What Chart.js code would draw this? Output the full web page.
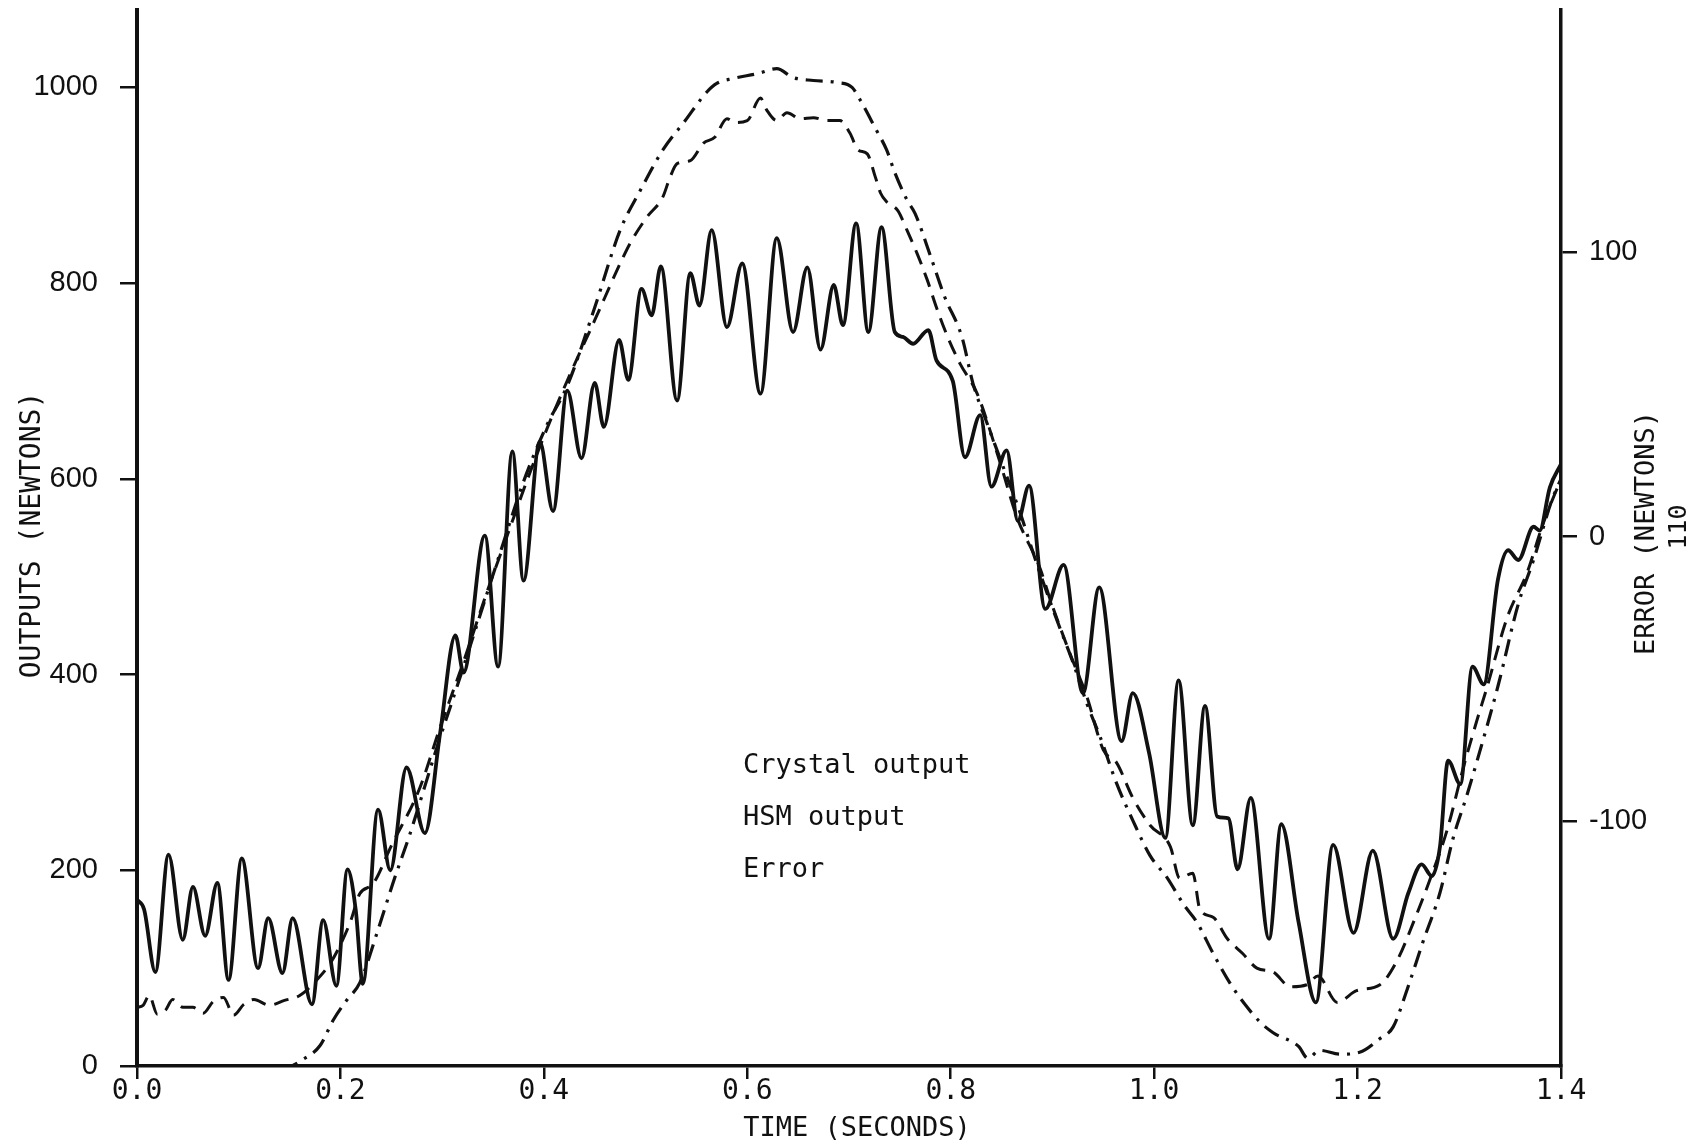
<!DOCTYPE html>
<html>
<head>
<meta charset="utf-8">
<title>Crystal / HSM output and error</title>
<script src="https://cdn.jsdelivr.net/npm/chart.js@4.4.1/dist/chart.umd.min.js"></script>
<style>
    html, body { margin: 0; padding: 0; background: #fff; }
    #wrap { width: 1700px; height: 1142px; }
</style>
</head>
<body>
<div id="wrap"><canvas id="chart" width="1700" height="1142"></canvas></div>
<script>
// crystal output (solid line), time in s / force in N
let crystalTime = [0.000, 0.007, 0.018, 0.031, 0.045, 0.055, 0.067, 0.079, 0.090, 0.103, 0.119, 0.129, 0.143, 0.153, 0.172, 0.183, 0.196, 0.207, 0.215, 0.222,
    0.237, 0.249, 0.265, 0.283, 0.298, 0.313, 0.321, 0.342, 0.355, 0.369, 0.380, 0.396, 0.409, 0.423, 0.437, 0.450, 0.459, 0.474, 0.483, 0.496,
    0.506, 0.515, 0.531, 0.544, 0.553, 0.565, 0.580, 0.595, 0.613, 0.629, 0.645, 0.659, 0.672, 0.685, 0.694, 0.707, 0.719, 0.732, 0.745, 0.753,
    0.763, 0.778, 0.786, 0.802, 0.814, 0.829, 0.840, 0.855, 0.866, 0.877, 0.893, 0.911, 0.930, 0.946, 0.968, 0.979, 0.995, 1.011, 1.024, 1.038,
    1.050, 1.062, 1.073, 1.082, 1.095, 1.113, 1.125, 1.142, 1.159, 1.176, 1.196, 1.215, 1.235, 1.250, 1.263, 1.273, 1.281, 1.289, 1.301, 1.313,
    1.324, 1.338, 1.348, 1.358, 1.373, 1.379, 1.389, 1.400];
let crystalNewtons = [170, 160, 96, 216, 129, 183, 133, 187, 88, 212, 100, 151, 95, 151, 63, 149, 82, 201, 160, 84,
    262, 200, 305, 238, 340, 440, 402, 542, 408, 628, 496, 638, 567, 690, 621, 698, 653, 742, 701, 794,
    767, 817, 680, 810, 777, 854, 755, 820, 687, 846, 750, 816, 732, 798, 757, 861, 750, 857, 750, 745,
    738, 752, 721, 700, 622, 665, 592, 629, 557, 593, 467, 512, 381, 489, 332, 381, 320, 233, 394, 246,
    368, 255, 253, 201, 274, 130, 247, 147, 65, 226, 136, 220, 130, 177, 206, 194, 224, 312, 288, 408,
    390, 497, 527, 517, 551, 547, 591, 615];

// HSM output (dashed line)
let hsmTime = [0.000, 0.006, 0.012, 0.020, 0.028, 0.035, 0.045, 0.055, 0.065, 0.075, 0.085, 0.095, 0.105, 0.115, 0.130, 0.145, 0.160, 0.175, 0.190, 0.200,
    0.210, 0.219, 0.232, 0.250, 0.278, 0.298, 0.321, 0.344, 0.364, 0.383, 0.403, 0.425, 0.450, 0.475, 0.485, 0.501, 0.517, 0.524, 0.531, 0.544,
    0.557, 0.568, 0.580, 0.588, 0.600, 0.613, 0.619, 0.629, 0.639, 0.652, 0.665, 0.678, 0.691, 0.701, 0.709, 0.718, 0.726, 0.731, 0.737, 0.748,
    0.757, 0.767, 0.777, 0.786, 0.797, 0.809, 0.826, 0.849, 0.865, 0.888, 0.898, 0.917, 0.934, 0.950, 0.963, 0.979, 0.996, 1.016, 1.025, 1.038,
    1.045, 1.058, 1.072, 1.087, 1.101, 1.117, 1.134, 1.150, 1.161, 1.180, 1.199, 1.222, 1.239, 1.255, 1.271, 1.288, 1.304, 1.317, 1.327, 1.347,
    1.367, 1.382, 1.400];
let hsmNewtons = [60, 62, 72, 53, 57, 68, 60, 60, 54, 66, 70, 52, 63, 68, 62, 67, 72, 86, 105, 124,
    148, 176, 186, 225, 284, 346, 413, 484, 542, 597, 651, 705, 762, 820, 841, 867, 888, 908, 922, 925,
    943, 949, 968, 964, 966, 989, 977, 966, 974, 968, 969, 966, 966, 953, 936, 932, 908, 892, 883, 874,
    854, 830, 803, 775, 745, 718, 687, 615, 561, 508, 476, 422, 377, 323, 310, 274, 246, 224, 192, 197,
    160, 152, 130, 115, 100, 96, 81, 83, 92, 65, 77, 83, 108, 147, 190, 241, 305, 352, 386, 458,
    505, 553, 600];

// error (dash-dot line)
let errorTime = [0.000, 0.050, 0.100, 0.150, 0.162, 0.180, 0.193, 0.206, 0.219, 0.236, 0.252, 0.268, 0.295, 0.316, 0.334, 0.360, 0.380, 0.403, 0.423, 0.450,
    0.475, 0.495, 0.517, 0.539, 0.560, 0.570, 0.586, 0.610, 0.629, 0.645, 0.665, 0.688, 0.703, 0.711, 0.726, 0.737, 0.745, 0.757, 0.765, 0.780,
    0.794, 0.811, 0.822, 0.836, 0.852, 0.868, 0.885, 0.905, 0.920, 0.934, 0.947, 0.963, 0.979, 0.996, 1.013, 1.029, 1.042, 1.058, 1.075, 1.090,
    1.104, 1.117, 1.142, 1.151, 1.163, 1.183, 1.202, 1.222, 1.235, 1.249, 1.264, 1.281, 1.294, 1.307, 1.317, 1.338, 1.358, 1.373, 1.391, 1.400];
let errorNewtons = [0, 0, 0, 0, 6, 21, 47, 67, 85, 136, 188, 236, 326, 392, 450, 534, 597, 655, 695, 775,
    854, 895, 936, 966, 995, 1004, 1009, 1014, 1019, 1010, 1007, 1005, 1000, 987, 958, 936, 913, 885, 871, 828,
    786, 745, 697, 656, 611, 566, 512, 454, 413, 370, 336, 289, 251, 215, 192, 165, 147, 115, 84, 62,
    45, 34, 20, 8, 16, 12, 14, 28, 40, 79, 126, 177, 233, 275, 310, 388, 472, 517, 578, 600];

let timeTicks = [0.0, 0.2, 0.4, 0.6, 0.8, 1.0, 1.2, 1.4];
let outputTicks = [0, 200, 400, 600, 800, 1000];
let errorTicks = [-100, 0, 100];
let legendNames = ["Crystal output", "HSM output", "Error"];

const ink = "#111";
const mono = '"DejaVu Sans Mono", monospace';
const sans = '"Liberation Sans", Arial, sans-serif';

function points(xs, ys) {
    return xs.map((x, i) => ({ x: x, y: ys[i] }));
}

function fixedTicks(list) {
    return function (scale) {
        scale.ticks = list.map(v => ({ value: v }));
    };
}

// pin a scale's size and drop the label overhang padding, so the plot box stays put
function fixSize(w, h) {
    return function (scale) {
        if (w) scale.width = w;
        if (h) scale.height = h;
        scale.paddingTop = 0;
        scale.paddingBottom = 0;
        scale.paddingLeft = 0;
        scale.paddingRight = 0;
    };
}

// axis titles, the in-plot key and the page number
const textLayer = {
    id: "textLayer",
    afterDraw(chart) {
        let ctx = chart.ctx;
        ctx.save();
        ctx.fillStyle = ink;
        ctx.textBaseline = "alphabetic";

        ctx.font = "27px " + mono;
        ctx.textAlign = "left";
        legendNames.forEach((name, i) => {
            ctx.fillText(name, 743, 773 + i * 52);
        });

        ctx.textAlign = "center";
        ctx.fillText("TIME (SECONDS)", 857, 1136);

        ctx.textBaseline = "middle";
        ctx.save();
        ctx.translate(33, 535);
        ctx.rotate(-Math.PI / 2);
        ctx.font = "28px " + mono;
        ctx.fillText("OUTPUTS (NEWTONS)", 0, 0);
        ctx.restore();

        ctx.save();
        ctx.translate(1647, 533);
        ctx.rotate(-Math.PI / 2);
        ctx.font = "27px " + mono;
        ctx.fillText("ERROR (NEWTONS)", 0, 0);
        ctx.restore();

        ctx.save();
        ctx.translate(1679, 527);
        ctx.rotate(-Math.PI / 2);
        ctx.font = "25px " + mono;
        ctx.fillText("110", 0, 0);
        ctx.restore();

        ctx.restore();
    }
};

let ctx = document.getElementById("chart").getContext("2d");
let chart = new Chart(ctx, {
    type: "line",
    data: {
        datasets: [
            {
                label: legendNames[0],
                data: points(crystalTime, crystalNewtons),
                borderColor: ink,
                borderWidth: 3.8,
                yAxisID: "y"
            },
            {
                label: legendNames[1],
                data: points(hsmTime, hsmNewtons),
                borderColor: ink,
                borderWidth: 3,
                borderDash: [15, 9],
                yAxisID: "y"
            },
            {
                label: legendNames[2],
                data: points(errorTime, errorNewtons),
                borderColor: ink,
                borderWidth: 3.2,
                borderDash: [17, 8, 3, 8],
                yAxisID: "y"
            }
        ]
    },
    options: {
        responsive: false,
        animation: false,
        devicePixelRatio: 1,
        layout: { padding: { top: 10, left: 0, right: 0, bottom: 0 } },
        elements: {
            point: { radius: 0 },
            line: { cubicInterpolationMode: "monotone", fill: false }
        },
        plugins: {
            legend: { display: false },
            tooltip: { enabled: false }
        },
        scales: {
            x: {
                type: "linear",
                min: 0,
                max: 1.4,
                afterBuildTicks: fixedTicks(timeTicks),
                afterFit: fixSize(0, 76),
                grid: { drawOnChartArea: false, tickLength: 13, color: ink, lineWidth: 2.5 },
                border: { color: ink, width: 3.5 },
                ticks: {
                    color: ink,
                    padding: -4,
                    maxRotation: 0,
                    font: { family: mono, size: 28 },
                    callback: v => v.toFixed(1)
                }
            },
            y: {
                position: "left",
                min: 0,
                max: 1079,
                afterBuildTicks: fixedTicks(outputTicks),
                afterFit: fixSize(137, 0),
                grid: { drawOnChartArea: false, tickLength: 17, color: ink, lineWidth: 2.5 },
                border: { color: ink, width: 4 },
                ticks: {
                    color: ink,
                    padding: 22,
                    font: { family: sans, size: 29 },
                    callback: v => String(v)
                }
            },
            y2: {
                display: true,
                position: "right",
                min: -186,
                max: 185,
                afterBuildTicks: fixedTicks(errorTicks),
                afterFit: fixSize(139, 0),
                grid: { drawOnChartArea: false, tickLength: 16, color: ink, lineWidth: 2.5 },
                border: { color: ink, width: 3.5 },
                ticks: {
                    color: ink,
                    padding: 12,
                    font: { family: sans, size: 29 },
                    callback: v => String(v)
                }
            }
        }
    },
    plugins: [textLayer]
});
</script>
</body>
</html>
